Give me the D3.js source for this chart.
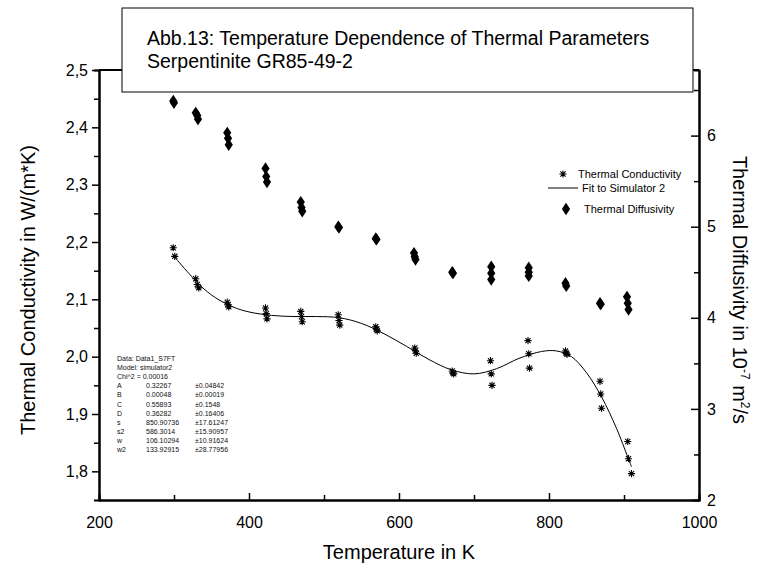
<!DOCTYPE html>
<html><head><meta charset="utf-8">
<script src="https://cdn.jsdelivr.net/npm/d3@7"></script>
<style>
body{margin:0;background:#fff;}
svg{display:block;font-family:"Liberation Sans",Arial,sans-serif;}
</style></head>
<body><svg id="c" width="760" height="570"></svg>
<script>
// ---- data ----
const titleLines = ["Abb.13: Temperature Dependence of Thermal Parameters", "Serpentinite GR85-49-2"];
const condT = [299,301, 329,331,333, 371,372,373, 422,423,424, 469,470,471, 519,520,521, 569,570,571, 621,622,623, 671,672,673, 722,723,724, 772,773,774, 822,823,824, 868,869,870, 905,906,910];
const condV = [2.190,2.175, 2.136,2.126,2.120, 2.095,2.090,2.087, 2.085,2.075,2.066, 2.079,2.070,2.061, 2.073,2.063,2.055, 2.052,2.048,2.045, 2.015,2.010,2.006, 1.975,1.972,1.970, 1.993,1.970,1.950, 2.028,2.005,1.980, 2.010,2.006,2.004, 1.957,1.935,1.910, 1.852,1.822,1.796];
const diffT = [299,300, 329,331,332, 371,372,373, 422,423,424, 469,470,471, 519,520, 569,570, 620,621,622, 671,672, 723,723,723, 773,773,773, 822,823, 868,869, 904,905,906];
const diffV = [6.38,6.36, 6.25,6.22,6.18, 6.03,5.97,5.90, 5.64,5.55,5.49, 5.27,5.21,5.17, 5.00,4.99, 4.87,4.86, 4.71,4.67,4.64, 4.50,4.49, 4.56,4.49,4.42, 4.55,4.50,4.46, 4.38,4.35, 4.16,4.15, 4.23,4.16,4.09];
const fitT = [300,320,340,360,380,400,430,460,490,520,550,580,610,640,670,700,730,760,790,810,830,850,870,890,905,910];
const fitV = [2.175,2.145,2.118,2.099,2.086,2.078,2.072,2.070,2.070,2.068,2.058,2.040,2.018,1.995,1.977,1.970,1.979,1.997,2.009,2.010,2.000,1.972,1.930,1.875,1.825,1.808];
const xTicks = [200,400,600,800,1000];
const xMinor = [300,500,700,900];
const leftTicks = [1.8,1.9,2.0,2.1,2.2,2.3,2.4,2.5];
const leftMinor = [1.85,1.95,2.05,2.15,2.25,2.35,2.45];
const rightTicks = [2,3,4,5,6];
const rightMinor = [2.5,3.5,4.5,5.5,6.5];
const legendLabels = ["Thermal Conductivity","Fit to Simulator 2","Thermal Diffusivity"];
const statsHeader = ["Data: Data1_S7FT","Model: simulator2","Chi^2 = 0.00016"];
const statsNames = ["A","B","C","D","s","s2","w","w2"];
const statsVals = ["0.32267","0.00048","0.55893","0.36282","850.90736","586.3014","106.10294","133.92915"];
const statsErrs = ["\u00b10.04842","\u00b10.00019","\u00b10.1548","\u00b10.16406","\u00b117.61247","\u00b115.90957","\u00b110.91624","\u00b128.77956"];

// ---- layout ----
const L = 99, R = 699, T = 70, B = 500;
const svg = d3.select("#c");
const x = d3.scaleLinear().domain([200,1000]).range([L,R]);
const yL = d3.scaleLinear().domain([1.75,2.5]).range([B,T]);
const yR = d3.scaleLinear().domain([2,6.72]).range([B,T]);
const fmt = d => d.toFixed(1).replace(".", ",");

function styleAxis(g){
  g.select(".domain").attr("stroke","#000").attr("stroke-width",2);
  g.selectAll(".tick line").attr("stroke","#000").attr("stroke-width",1.5);
  g.selectAll(".tick text").attr("fill","#000").attr("font-size",16).attr("font-family","Liberation Sans, Arial, sans-serif");
}

// top frame line
svg.append("line").attr("x1",L).attr("x2",R).attr("y1",T).attr("y2",T).attr("stroke","#000").attr("stroke-width",2);

// bottom axis
svg.append("g").attr("transform",`translate(0,${B})`)
  .call(d3.axisBottom(x).tickValues(xMinor).tickSize(-5).tickFormat("")).call(styleAxis);
svg.append("g").attr("transform",`translate(0,${B})`)
  .call(d3.axisBottom(x).tickValues(xTicks).tickSizeInner(-7).tickSizeOuter(0).tickPadding(17).tickFormat(d3.format("d"))).call(styleAxis);

// left axis
svg.append("g").attr("transform",`translate(${L},0)`)
  .call(d3.axisLeft(yL).tickValues(leftMinor).tickSize(5).tickFormat("")).call(styleAxis);
svg.append("g").attr("transform",`translate(${L},0)`)
  .call(d3.axisLeft(yL).tickValues(leftTicks).tickSizeInner(7).tickSizeOuter(0).tickPadding(4).tickFormat(fmt)).call(styleAxis);

// right axis
svg.append("g").attr("transform",`translate(${R},0)`)
  .call(d3.axisRight(yR).tickValues(rightMinor).tickSize(-5).tickFormat("")).call(styleAxis);
svg.append("g").attr("transform",`translate(${R},0)`)
  .call(d3.axisRight(yR).tickValues(rightTicks).tickSizeInner(-8).tickSizeOuter(0).tickPadding(8).tickFormat(d3.format("d"))).call(styleAxis);

// axis titles
svg.append("text").attr("x",(L+R)/2).attr("y",559).attr("text-anchor","middle").attr("font-size",20).text("Temperature in K");
svg.append("text").attr("transform","translate(35,290) rotate(-90)").attr("text-anchor","middle").attr("font-size",20).text("Thermal Conductivity in W/(m*K)");
const rt = svg.append("text").attr("transform","translate(733,290) rotate(90)").attr("text-anchor","middle").attr("font-size",20);
rt.append("tspan").text("Thermal Diffusivity in 10");
rt.append("tspan").attr("font-size",12).attr("dy",-8).text("-7");
rt.append("tspan").attr("dy",8).text(" m");
rt.append("tspan").attr("font-size",12).attr("dy",-8).text("2");
rt.append("tspan").attr("dy",8).text("/s");

// fit line
const line = d3.line().x((d,i)=>x(fitT[i])).y((d,i)=>yL(fitV[i])).curve(d3.curveCatmullRom.alpha(0.5));
svg.append("path").attr("d",line(fitT)).attr("fill","none").attr("stroke","#000").attr("stroke-width",1);

// asterisk marker
function asterisk(g, cx, cy, r){
  const a = r*0.72;
  g.append("path").attr("d",`M${cx-r},${cy}L${cx+r},${cy}M${cx},${cy-r}L${cx},${cy+r}M${cx-a},${cy-a}L${cx+a},${cy+a}M${cx-a},${cy+a}L${cx+a},${cy-a}`)
    .attr("stroke","#000").attr("stroke-width",1.1).attr("fill","none");
}
const gc = svg.append("g");
condT.forEach((t,i)=>asterisk(gc, x(t), yL(condV[i]), 3.6));

// diamonds
const diamond = d3.symbol().type(d3.symbolDiamond).size(44);
svg.append("g").selectAll("path").data(diffT).join("path")
  .attr("transform",(d,i)=>`translate(${x(d)},${yR(diffV[i])}) scale(1.15,1)`)
  .attr("d",diamond()).attr("fill","#000");

// legend
const lg = svg.append("g").attr("font-size",11);
asterisk(lg, 563, 174, 3.6);
lg.append("text").attr("x",578).attr("y",178).text(legendLabels[0]);
lg.append("line").attr("x1",548).attr("x2",578).attr("y1",188).attr("y2",188).attr("stroke","#000").attr("stroke-width",1);
lg.append("text").attr("x",582).attr("y",192).text(legendLabels[1]);
lg.append("path").attr("transform","translate(566,209) scale(1.15,1)").attr("d",diamond()).attr("fill","#000");
lg.append("text").attr("x",584).attr("y",213).text(legendLabels[2]);

// stats block
const sg = svg.append("g").attr("font-size",7).attr("fill","#111");
const y0 = 361, dy = 9.1;
statsHeader.forEach((s,i)=>sg.append("text").attr("x",117).attr("y",y0+i*dy).text(s));
statsNames.forEach((s,i)=>{
  const yy = y0+(i+3)*dy;
  sg.append("text").attr("x",117).attr("y",yy).text(s);
  sg.append("text").attr("x",146).attr("y",yy).text(statsVals[i]);
  sg.append("text").attr("x",195).attr("y",yy).text(statsErrs[i]);
});

// title box
svg.append("rect").attr("x",122).attr("y",8).attr("width",571).attr("height",84).attr("fill","#fff").attr("stroke","#000").attr("stroke-width",1);
titleLines.forEach((s,i)=>svg.append("text").attr("x",147).attr("y",45+i*23).attr("font-size",19.5).text(s));
</script></body></html>
